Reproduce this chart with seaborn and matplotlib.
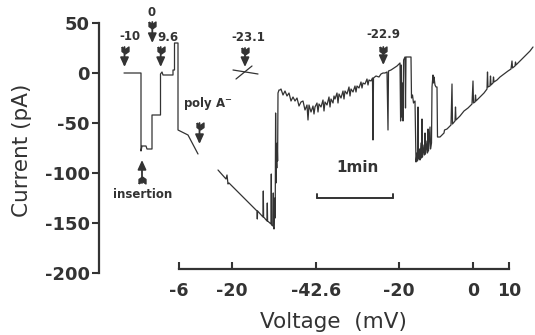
import numpy as np
import pandas as pd
import matplotlib
matplotlib.use('Agg')
import matplotlib.pyplot as plt
import seaborn as sns

# chart recorder trace: x = sample index (76 samples = 1 min), y = current in pA
fs = 76 / 60.0

steps_n = [24, 41, 41, 42, 46, 47, 52, 52, 60.5, 60.5, 62, 63, 73, 73, 74.5, 74.5, 78, 78, 88, 98]
steps_pA = [0, 0, -78, -73, -73, -76, -76, -42, -42, -1, 1, -2, -2, 3, 3, 30, 30, -57, -62, -81]

main_n = [118, 126, 127, 128, 129, 140, 150, 157, 157.3, 157.6, 163, 163.3, 163.6, 167, 167.3, 167.6,
          171, 171.3, 171.6, 173, 173.3, 173.6, 174,
          174.8, 175.2, 175.6, 176.0, 176.4, 176.8, 177.2, 177.6, 178, 179, 180,
          181, 183, 185, 187, 189, 191, 193, 195, 197, 199, 201, 203, 205, 207, 208, 209, 211, 213,
          214, 215, 217, 218, 219, 221, 223, 224, 225, 227, 229, 230, 231, 233, 234, 235, 237, 238,
          239, 241, 243, 244, 245, 247, 249, 250, 251, 253, 255, 256, 257, 259, 261, 262, 263, 265,
          267, 268, 269, 271, 272.5, 273, 273.5, 276, 279, 281,
          283, 285, 287, 288, 288.5, 291, 294, 297, 299, 300,
          300.6, 301.2, 301.8, 302.4, 303, 303.6, 305, 305.5, 306, 311, 311.5, 312.5, 313.5, 315, 316,
          317, 317.5, 318, 318.5, 319.5, 320, 321, 321.5, 322, 322.5, 324, 324.5, 325, 325.5, 327,
          327.5, 328, 328.5, 330, 330.5, 331.5, 332, 333, 333.5, 334, 335, 336, 337, 337.5,
          340, 344, 344.5, 347, 351, 352, 352.5, 355, 355.5, 356, 360, 364, 368, 372, 373, 373.5,
          375, 375.5, 376, 380, 384, 387, 387.5, 388, 390, 390.5, 391, 393, 393.5, 394, 397, 400,
          404, 408, 411, 412, 412.5, 415, 415.5, 416, 420, 425, 430, 433]
main_pA = [-97, -106, -102, -111, -110, -121, -131, -138, -146, -138, -144, -118, -144, -148, -130, -148,
           -151, -101, -152, -153, -120, -154, -156,
           -125, -145, -40, -110, -85, -95, -70, -88, -20, -17, -17,
           -16, -22, -18, -23, -20, -28, -24, -28, -25, -33, -29, -28, -37, -32, -47, -32, -39, -33,
           -41, -34, -30, -39, -31, -34, -27, -38, -29, -32, -24, -34, -26, -30, -23, -26, -20, -30,
           -21, -25, -18, -26, -18, -21, -14, -23, -16, -19, -13, -19, -13, -15, -9, -15, -10, -11,
           -6, -12, -7, -8, -5, -67, -5, -3, -4, -1,
           0, 0, 1, -57, 2, 3, 5, 7, 9, 10,
           -48, 8, -44, -10, -48, 13, 16, -35, 16, 16, -25, -22, -30, -28, -89,
           -80, -88, -34, -86, -76, -87, -70, -85, -46, -84, -72, -82, -60, -81, -68,
           -80, -56, -78, -54, -76, -70, -14, -2, -10, -4, -12, -14, -14, -64,
           -64, -60, -57, -56, -52, -11, -51, -48, -34, -47, -43, -38, -35, -31, -8, -30,
           -29, -22, -28, -24, -20, -16, 1, -14, -13, -3, -12, -10, -4, -9, -7, -4,
           -1, 2, 4, 12, 5, 7, 11, 8, 12, 17, 22, 26]

# the crossed mark at -23.1 mV
cross_a_n = [133, 158]
cross_a_pA = [3, -1]
cross_b_n = [136, 152]
cross_b_pA = [-6, 7]

volt_pos = [79, 132, 216, 299, 373, 409]
volt_labels = ['-6', '-20', '-42.6', '-20', '0', '10']
current_ticks = [50, 0, -50, -100, -150, -200]

scale_start = 217
scale_seconds = 60

ink = '#333333'

sns.set_style('white')
plt.rcParams['font.family'] = ['DejaVu Sans']
plt.rcParams['axes.unicode_minus'] = False

fig = plt.figure(figsize=(5.35, 3.35), dpi=100)
ax = fig.add_axes([99 / 535, 1 - 283 / 335, 436 / 535, 270 / 335])

df_steps = pd.DataFrame({'n': steps_n, 'pA': steps_pA})
df_main = pd.DataFrame({'n': main_n, 'pA': main_pA})
for d in (df_steps, df_main):
    sns.lineplot(data=d, x='n', y='pA', sort=False, estimator=None, color=ink, lw=0.9, ax=ax)
sns.lineplot(x=cross_a_n, y=cross_a_pA, sort=False, estimator=None, color=ink, lw=0.9, ax=ax)
sns.lineplot(x=cross_b_n, y=cross_b_pA, sort=False, estimator=None, color=ink, lw=0.9, ax=ax)

ax.set_xlim(-1, 435)
ax.set_ylim(-210, 60)

# axes styling
for s in ('top', 'right'):
    ax.spines[s].set_visible(False)
ax.spines['left'].set_bounds(-200, 50)
ax.spines['bottom'].set_position(('data', -196))
ax.spines['bottom'].set_bounds(volt_pos[0], volt_pos[-1])
for s in ('left', 'bottom'):
    ax.spines[s].set_linewidth(1.6)
    ax.spines[s].set_color(ink)

ax.set_yticks(current_ticks)
ax.set_yticklabels([str(v) for v in current_ticks], fontweight='bold', fontsize=13, color=ink)
ax.set_xticks(volt_pos)
ax.set_xticklabels(volt_labels, fontweight='bold', fontsize=12.5, color=ink)
ax.tick_params(axis='y', direction='out', length=5, width=1.5, pad=1.5, color=ink, left=True)
ax.tick_params(axis='x', direction='in', length=5, width=1.5, pad=9, color=ink, bottom=True)

ax.set_ylabel('Current (pA)', fontsize=15.5, color=ink, va='center')
ax.yaxis.set_label_coords(-0.177, 0.493)
ax.set_xlabel('Voltage  (mV)', fontsize=15.5, color=ink, va='center')
ax.xaxis.set_label_coords(0.537, -0.144)

# event arrows
fletch_down = [(-1, 1), (0, 0.3), (1, 1), (1, -0.3), (0, -1), (-1, -0.3), (-1, 1)]
fletch_up = [(x, -y) for x, y in fletch_down]


def mark(x, y0, y1):
    ax.annotate('', xy=(x, y1), xytext=(x, y0),
                arrowprops=dict(arrowstyle='-|>,head_width=0.25,head_length=0.55', color=ink,
                                lw=1.3, shrinkA=0, shrinkB=0, mutation_scale=10))
    off = -3 if y1 < y0 else 3
    ax.plot([x], [y0 + off], marker=fletch_down if y1 < y0 else fletch_up,
            ms=5, color=ink, mec=ink, ls='none')


mark(24.5, 26, 6)
mark(52.3, 51, 30)
mark(60.7, 26, 6)
mark(99.5, -50, -71)
mark(145, 25, 6)
mark(283.3, 26, 8)
mark(42, -110, -87)

tkw = dict(fontsize=8.5, fontweight='bold', color=ink, ha='center', va='center')
ax.text(30, 36, '-10', **tkw)
ax.text(52, 60.5, '0', **tkw)
ax.text(67.5, 35.5, '9.6', **tkw)
ax.text(148, 35.5, '-23.1', **tkw)
ax.text(283.5, 38, '-22.9', **tkw)
ax.text(83, -31, 'poly A$^{\\mathbf{-}}$', fontsize=8.5, fontweight='bold', color=ink,
        ha='left', va='center')
ax.text(43, -122, 'insertion', **tkw)

# 1 min scale bar
bar_end = scale_start + scale_seconds * fs
ax.plot([scale_start, bar_end], [-125, -125], color=ink, lw=1.4)
ax.plot([scale_start, scale_start], [-125, -121], color=ink, lw=1.4)
ax.plot([bar_end, bar_end], [-125, -121], color=ink, lw=1.4)
ax.text((scale_start + bar_end) / 2 + 2, -95, '1min', fontsize=11, fontweight='bold',
        color=ink, ha='center', va='center')

fig.savefig('out.png', dpi=100)
